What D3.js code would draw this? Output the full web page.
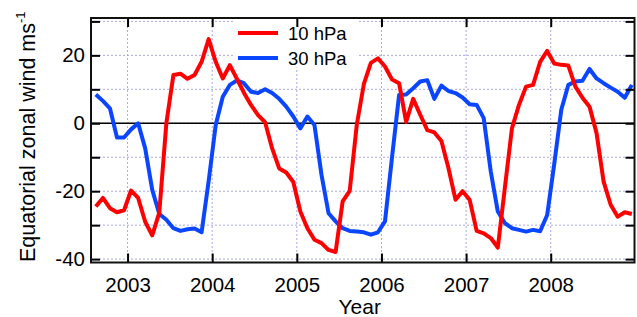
<!DOCTYPE html>
<html>
<head>
<meta charset="utf-8">
<script src="https://cdn.jsdelivr.net/npm/d3@7"></script>
<style>
body { margin: 0; background: #fff; }
text { font-family: Arial, "Liberation Sans", sans-serif; fill: #000; }
</style>
</head>
<body>
<div id="chart"></div>
<script>
// size of the picture
var width = 637
var height = 317

// monthly means, Aug 2002 .. Dec 2008
var firstYear = 2002
var firstMonth = 8
var wind10 = [-24.5, -22, -25, -26.2, -25.6, -19.8, -22, -29, -33, -26.3,
  0, 14.2, 14.6, 13.1, 14.2, 18.1, 24.8, 18.1, 13.2, 17.1,
  13.1, 9, 5.4, 2.4, 0.3, -7.4, -13.3, -14.5, -17.3, -26,
  -30.9, -34.3, -35.3, -37.3, -37.9, -23, -19.9, -0.5, 11.5, 17.8,
  19.1, 16.7, 12.9, 11.8, 0.4, 7.2, 2.5, -2, -2.7, -5.2,
  -13.2, -22.5, -20, -22.5, -31.7, -32.4, -33.8, -36.6, -19, -1.5,
  5.4, 10.8, 11.3, 18.1, 21.3, 17.6, 17.2, 17, 10.8, 7.5,
  4.9, -2.9, -17.2, -24, -27.5, -26.2, -26.7]
var wind30 = [8.5, 6.6, 4.4, -4.2, -4.2, -1.8, 0, -7.4, -19.6, -26.7,
  -28.4, -30.9, -31.7, -31.2, -31, -32.1, -17, -0.5, 7.8, 11.3,
  12.6, 11.8, 9.3, 8.9, 10, 8.9, 7.2, 4.9, 2, -1.5,
  2, -0.5, -15.2, -26.5, -28.9, -30.9, -31.7, -31.9, -32.1, -32.8,
  -32.1, -28.9, -10, 8.3, 8.5, 10.3, 12.3, 12.7, 7.2, 11.1,
  9.5, 8.9, 7.6, 5.6, 5.4, 1.5, -14.2, -26, -29.4, -30.9,
  -31.4, -31.9, -31.4, -31.8, -27, -12, 4, 11.3, 12.3, 12.5,
  16, 13.2, 11.8, 10.5, 9.3, 7.5, 11.3]

var yearTicks = [2003, 2004, 2005, 2006, 2007, 2008]
var windTicks = [-40, -30, -20, -10, 0, 10, 20, 30]
var windLabels = [-40, -20, 0, 20]
var seriesNames = ["10 hPa", "30 hPa"]
var seriesColors = ["#ff0000", "#0a46ff"]

window.onload = function () {
  var svg = d3.select("#chart")
    .append("svg")
      .attr("width", width)
      .attr("height", height)

  var left = 91, right = 634.5, top = 18, bottom = 262.5

  var x = d3.scaleLinear().domain([2002.568, 2008.99]).range([left, right])
  var y = d3.scaleLinear().domain([-41, 31]).range([bottom, top])

  // decimal year at the middle of each month
  function monthTime(i) { return firstYear + (firstMonth - 1 + i + 0.5) / 12 }

  // dotted grid
  var grid = svg.append("g")
    .attr("stroke", "#a8a8e6")
    .attr("stroke-width", 1)
    .attr("stroke-dasharray", "2,2")
  grid.selectAll("line.v").data(yearTicks).enter().append("line")
    .attr("x1", function(d){ return x(d) }).attr("x2", function(d){ return x(d) })
    .attr("y1", top).attr("y2", bottom)
  grid.selectAll("line.h").data(windTicks).enter().append("line")
    .attr("x1", left).attr("x2", right)
    .attr("y1", function(d){ return y(d) }).attr("y2", function(d){ return y(d) })

  // zero line
  svg.append("line")
    .attr("x1", left).attr("x2", right)
    .attr("y1", y(0)).attr("y2", y(0))
    .attr("stroke", "#000").attr("stroke-width", 1.5)

  // legend background hides the grid
  svg.append("rect")
    .attr("x", 233).attr("y", 19.5).attr("width", 124).attr("height", 48)
    .attr("fill", "#fff")

  var line = d3.line()
    .x(function(d, i){ return x(monthTime(i)) })
    .y(function(d){ return y(d) })

  var allSeries = [wind30, wind10]
  var allColors = [seriesColors[1], seriesColors[0]]
  svg.append("g").selectAll("path")
    .data(allSeries)
    .enter().append("path")
      .attr("d", line)
      .attr("fill", "none")
      .attr("stroke", function(d, i){ return allColors[i] })
      .attr("stroke-width", 4)
      .attr("stroke-linejoin", "round")

  // axes with inward ticks on all four sides
  var tickLen = 9
  svg.append("g").attr("transform", "translate(0," + bottom + ")")
    .call(d3.axisBottom(x).tickValues(yearTicks).tickSizeInner(-tickLen).tickSizeOuter(0).tickFormat(d3.format("d")))
    .call(function(g){
      g.select(".domain").remove()
      g.selectAll(".tick line").attr("stroke-width", 2)
      g.selectAll(".tick text").attr("y", 29).attr("dy", 0).style("font-size", "20.5px")
        .style("font-family", "Arial, 'Liberation Sans', sans-serif")
    })
  svg.append("g").attr("transform", "translate(0," + top + ")")
    .call(d3.axisTop(x).tickValues(yearTicks).tickSizeInner(-tickLen).tickSizeOuter(0).tickFormat(""))
    .call(function(g){ g.select(".domain").remove(); g.selectAll(".tick line").attr("stroke-width", 2) })
  svg.append("g").attr("transform", "translate(" + left + ",0)")
    .call(d3.axisLeft(y).tickValues(windTicks).tickSizeInner(-tickLen).tickSizeOuter(0)
      .tickFormat(function(d){ return windLabels.indexOf(d) >= 0 ? d : "" }))
    .call(function(g){
      g.select(".domain").remove()
      g.selectAll(".tick line").attr("stroke-width", 2)
      g.selectAll(".tick text").attr("x", -6).style("font-size", "20.5px")
        .style("font-family", "Arial, 'Liberation Sans', sans-serif")
    })
  svg.append("g").attr("transform", "translate(" + right + ",0)")
    .call(d3.axisRight(y).tickValues(windTicks).tickSizeInner(-tickLen).tickSizeOuter(0).tickFormat(""))
    .call(function(g){ g.select(".domain").remove(); g.selectAll(".tick line").attr("stroke-width", 2) })

  // frame
  svg.append("rect")
    .attr("x", left).attr("y", top)
    .attr("width", right - left).attr("height", bottom - top)
    .attr("fill", "none").attr("stroke", "#111").attr("stroke-width", 2)

  // legend
  var legend = svg.append("g")
  seriesNames.forEach(function(name, i){
    var ly = 33 + i * 25
    legend.append("line")
      .attr("x1", 238).attr("x2", 278).attr("y1", ly).attr("y2", ly)
      .attr("stroke", seriesColors[i]).attr("stroke-width", 4)
    legend.append("text")
      .attr("x", 288).attr("y", ly + 6.5)
      .style("font-size", "18.5px")
      .text(name)
  })

  // axis titles
  svg.append("text")
    .attr("x", (left + right) / 2 - 3).attr("y", 314)
    .attr("text-anchor", "middle")
    .style("font-size", "21px")
    .text("Year")

  var ylab = svg.append("text")
    .attr("transform", "translate(35,262) rotate(-90)")
    .style("font-size", "21.5px")
  ylab.append("tspan").text("Equatorial zonal wind ms")
  ylab.append("tspan").attr("dy", -10).style("font-size", "13px").text("-1")
}
</script>
</body>
</html>
